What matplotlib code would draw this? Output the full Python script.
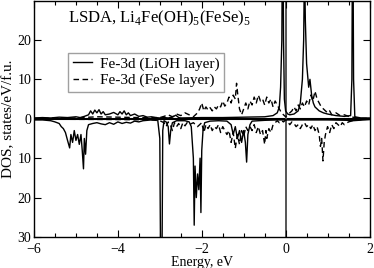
import matplotlib
matplotlib.use("Agg")
import matplotlib.pyplot as plt
from matplotlib.ticker import MultipleLocator, FixedLocator, FuncFormatter

plt.rcParams['font.family'] = ['Liberation Serif', 'DejaVu Serif']
plt.rcParams['mathtext.fontset'] = 'custom'
plt.rcParams['mathtext.rm'] = 'Liberation Serif'

# --- Data ---
lioh_up_E = [-6.0, -5.8, -5.6, -5.4, -5.2, -5.0, -4.9, -4.8, -4.7, -4.65, -4.6, -4.55, -4.5, -4.45, -4.4,
             -4.35, -4.3, -4.2, -4.1, -4.0, -3.95, -3.9, -3.85, -3.8, -3.75, -3.7, -3.6, -3.5, -3.4, -3.3,
             -3.2, -3.1, -3.0, -2.9, -2.8, -2.7, -2.62, -2.55, -2.5, -2.0, -1.5, -1.0, -0.5, -0.3, -0.2,
             -0.15, -0.12, -0.09, -0.07, -0.05, -0.03, 0.0, 0.05, 0.1, 0.2, 0.3, 0.35, 0.4, 0.43, 0.45,
             0.47, 0.5, 0.55, 0.58, 0.62, 0.66, 0.7, 0.75, 0.8, 0.9, 1.0, 1.2, 1.4, 1.55, 1.58, 1.6, 1.62,
             1.65, 1.8, 2.0]
lioh_up = [0.2, 0.3, 0.2, 0.4, 0.3, 0.5, 0.3, 0.6, 1.0, 2.0, 1.2, 2.2, 1.5, 2.3, 1.2,
           1.8, 1.0, 1.2, 1.6, 1.0, 1.8, 1.2, 2.0, 1.0, 1.5, 0.8, 1.2, 0.6, 0.8, 0.4,
           0.5, 0.3, 0.2, 0.3, 0.2, 0.4, 0.9, 0.3, 0.2, 0.3, 0.3, 0.4, 0.5, 0.8, 1.5,
           3.0, 8.0, 20.0, 60.0, 20.0, 5.0, 2.0, 1.2, 1.0, 1.2, 2.0, 4.0, 10.0, 20.0, 40.0,
           25.0, 14.0, 8.0, 10.0, 6.0, 4.0, 3.0, 2.5, 2.0, 1.5, 1.2, 0.8, 0.6, 0.8, 10.0, 60.0, 10.0,
           0.5, 0.2, 0.2]

lioh_dn_E = [-6.0, -5.8, -5.6, -5.5, -5.4, -5.35, -5.3, -5.25, -5.2, -5.15, -5.12, -5.08, -5.04, -5.0,
             -4.96, -4.92, -4.88, -4.85, -4.82, -4.8, -4.77, -4.74, -4.7, -4.6, -4.5, -4.4, -4.3, -4.2,
             -4.1, -4.0, -3.9, -3.8, -3.7, -3.6, -3.5, -3.4, -3.3, -3.2, -3.05, -3.0, -2.98, -2.95, -2.93,
             -2.9, -2.85, -2.8, -2.77, -2.74, -2.7, -2.6, -2.4, -2.3, -2.25, -2.2, -2.18, -2.16, -2.13,
             -2.1, -2.07, -2.04, -2.02, -2.0, -1.97, -1.93, -1.8, -1.6, -1.4, -1.3, -1.25, -1.2, -1.15,
             -1.1, -1.05, -1.0, -0.96, -0.93, -0.9, -0.85, -0.8, -0.5, -0.2, 0.0, 0.5, 1.0, 1.5, 1.6, 2.0]
lioh_dn = [-0.3, -0.3, -0.5, -0.8, -1.2, -2.0, -2.5, -3.5, -5.5, -7.4, -4.0, -6.0, -3.0, -5.5,
           -4.0, -6.5, -4.0, -8.0, -12.7, -5.0, -9.0, -3.0, -1.5, -1.2, -1.0, -1.3, -1.5, -1.0,
           -1.4, -0.8, -1.2, -0.9, -1.1, -0.6, -0.8, -0.5, -0.4, -0.3, -0.3, -5.0, -40.0, -40.0, -3.0,
           -0.5, -0.8, -2.0, -6.4, -3.0, -1.0, -0.5, -0.5, -0.8, -2.0, -10.0, -27.0, -12.0, -20.0,
           -14.0, -18.0, -10.0, -23.8, -8.0, -3.0, -1.0, -0.6, -0.5, -0.6, -1.5, -4.0, -2.0, -5.0,
           -3.0, -6.0, -3.0, -6.0, -11.0, -4.0, -1.5, -0.6, -0.4, -0.3, -0.3, -0.3, -0.3, -0.4, -0.5, -0.2]

fese_up_E = [-6.0, -5.0, -4.5, -4.0, -3.5, -3.0, -2.9, -2.8, -2.7, -2.6, -2.5, -2.4, -2.3, -2.2, -2.1,
             -2.05, -2.0, -1.95, -1.9, -1.85, -1.8, -1.75, -1.7, -1.65, -1.6, -1.55, -1.5, -1.45, -1.4,
             -1.35, -1.3, -1.25, -1.2, -1.17, -1.14, -1.1, -1.05, -1.0, -0.95, -0.9, -0.85, -0.8, -0.75,
             -0.7, -0.65, -0.6, -0.55, -0.5, -0.45, -0.4, -0.35, -0.3, -0.25, -0.2, -0.15, -0.1, -0.05,
             0.0, 0.05, 0.1, 0.15, 0.2, 0.25, 0.3, 0.35, 0.4, 0.45, 0.5, 0.55, 0.6, 0.65, 0.7, 0.75, 0.8,
             0.85, 0.9, 0.95, 1.0, 1.05, 1.1, 1.2, 1.3, 1.4, 1.5, 1.6, 1.8, 2.0]
fese_up = [0.1, 0.2, 0.5, 0.4, 0.3, 0.3, 0.6, 1.0, 0.5, 1.2, 0.8, 1.5, 1.0, 0.5, 1.5,
           2.5, 4.0, 2.0, 3.0, 2.2, 2.8, 2.0, 3.0, 2.5, 3.5, 3.0, 4.5, 3.2, 4.0,
           5.5, 4.0, 6.0, 5.0, 9.0, 6.0, 2.5, 1.0, 2.5, 4.0, 2.5, 4.5, 3.5, 5.5,
           4.0, 6.0, 4.5, 5.0, 3.5, 5.5, 4.0, 5.0, 3.0, 4.5, 3.5, 2.5, 1.5, 1.0,
           0.5, 1.0, 1.5, 2.0, 3.0, 2.0, 3.5, 2.5, 4.0, 3.0, 4.5, 3.5, 6.0, 4.5, 7.0, 5.0, 4.0,
           3.0, 2.5, 2.0, 1.5, 2.0, 1.0, 1.5, 0.8, 1.0, 0.6, 0.4, 0.1, 0.1]

fese_dn_E = [-6.0, -4.0, -3.2, -3.0, -2.9, -2.85, -2.8, -2.75, -2.7, -2.65, -2.6, -2.55, -2.5, -2.45,
             -2.4, -2.35, -2.3, -2.2, -2.1, -2.0, -1.95, -1.9, -1.85, -1.8, -1.75, -1.7, -1.65, -1.6,
             -1.55, -1.5, -1.45, -1.4, -1.35, -1.3, -1.25, -1.2, -1.15, -1.1, -1.05, -1.0, -0.95, -0.9,
             -0.85, -0.8, -0.75, -0.7, -0.65, -0.6, -0.55, -0.5, -0.47, -0.45, -0.4, -0.35, -0.3, -0.25,
             -0.2, -0.15, -0.1, -0.05, 0.0, 0.05, 0.1, 0.15, 0.2, 0.25, 0.3, 0.35, 0.4, 0.45, 0.5, 0.55,
             0.6, 0.65, 0.7, 0.75, 0.8, 0.83, 0.86, 0.89, 0.92, 0.95, 1.0, 1.05, 1.1, 1.15, 1.2, 1.3,
             1.35, 1.4, 1.5, 1.6, 1.8, 2.0]
fese_dn = [-0.1, -0.2, -0.3, -0.5, -1.0, -2.0, -0.8, -1.5, -3.0, -1.0, -2.0, -1.2, -2.5, -1.0,
           -1.8, -1.0, -1.5, -1.0, -2.0, -1.0, -3.5, -1.5, -2.5, -1.5, -3.0, -2.0, -2.5, -1.5,
           -3.5, -2.0, -3.0, -4.0, -3.0, -6.0, -3.5, -7.5, -4.0, -6.5, -3.0, -4.5, -2.0, -3.0,
           -2.0, -3.0, -1.5, -3.5, -2.0, -4.0, -3.0, -6.5, -3.0, -5.0, -2.5, -3.5, -1.5, -1.0,
           -0.5, -1.0, -0.5, -0.8, -0.3, -0.8, -1.5, -0.8, -1.2, -2.0, -1.5, -2.5, -1.5, -1.0, -2.0, -1.5,
           -2.5, -1.5, -3.0, -2.0, -4.0, -7.0, -5.0, -10.7, -6.0, -4.0, -2.0, -3.5, -1.5, -2.5, -1.0, -2.0,
           -1.0, -1.5, -0.8, -0.5, -0.2, -0.1]

x_ticks = [-6, -4, -2, 0, 2]
y_ticks = [-30, -20, -10, 0, 10, 20]

W, H = 374, 268
fig = plt.figure(figsize=(W / 100, H / 100), dpi=100)
ax = fig.add_axes([34 / W, 1 - 237 / H, 335.5 / W, 236.5 / H])

ax.axhline(0, color='black', lw=1.5, zorder=1)
ax.axvline(0, color='#555555', lw=1.4, zorder=1)

ax.plot(lioh_up_E, lioh_up, color='black', lw=1.0, label='Fe-3d (LiOH layer)', zorder=3)
ax.plot(lioh_dn_E, lioh_dn, color='black', lw=1.0, zorder=3)
ax.plot(fese_up_E, fese_up, color='black', lw=1.0, ls=(0, (4, 2.5)), label='Fe-3d (FeSe layer)', zorder=2)
ax.plot(fese_dn_E, fese_dn, color='black', lw=1.0, ls=(0, (4, 2.5)), zorder=2)

ax.set_xlim(-6, 2)
ax.set_ylim(-30, 30)
ax.xaxis.set_major_locator(FixedLocator(x_ticks))
ax.xaxis.set_minor_locator(MultipleLocator(0.5))
ax.yaxis.set_major_locator(FixedLocator(y_ticks))
ax.yaxis.set_major_formatter(FuncFormatter(lambda v, p: f"{abs(int(round(v)))}"))
ax.tick_params(which='both', direction='in', top=True, right=True, labelsize=10, width=0.8)
ax.tick_params(which='major', length=5)
ax.tick_params(axis='y', which='major', pad=2)
ax.tick_params(axis='x', which='major', pad=4)
ax.tick_params(which='minor', length=3)
for s in ax.spines.values():
    s.set_linewidth(1.0)

ax.set_xlabel('Energy, eV', fontsize=10, labelpad=0)
ax.set_ylabel('DOS, states/eV/f.u.', fontsize=11, labelpad=1.5)

ax.text((68 - 34) / 335.5, 1 - 18 / 236.5, 'LSDA, Li$_4$Fe(OH)$_5$(FeSe)$_5$', transform=ax.transAxes,
        fontsize=12, va='center', ha='left')

leg = ax.legend(loc='upper left', bbox_to_anchor=((68 - 34) / 335.5, 1 - 52 / 236.5), borderaxespad=0,
                fontsize=11, frameon=True, fancybox=False, handlelength=1.3,
                handletextpad=0.5, borderpad=0.3, labelspacing=0.15)
leg.get_frame().set_edgecolor('#888888')
leg.get_frame().set_linewidth(1.0)

fig.savefig('out.png', dpi=100)
